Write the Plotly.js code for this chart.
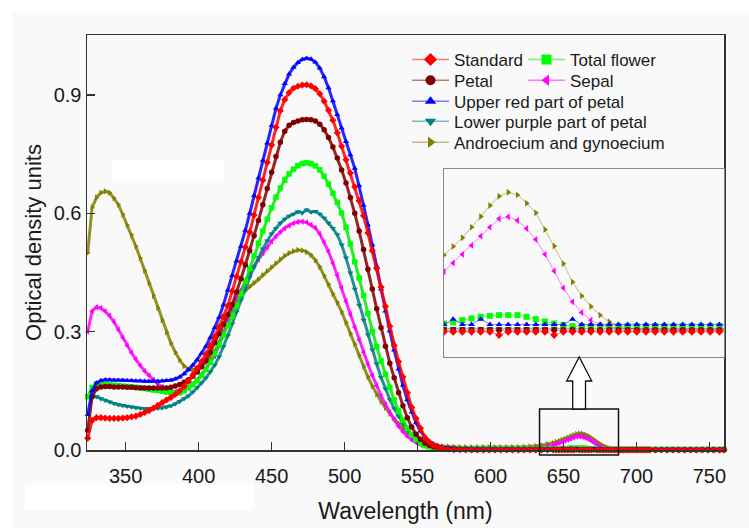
<!DOCTYPE html>
<html><head><meta charset="utf-8">
<script src="https://cdn.plot.ly/plotly-3.0.1.min.js"></script>
<style>html,body{margin:0;padding:0;background:#fff}#chart{width:749px;height:528px}</style>
</head><body><div id="chart"></div>
<script>
// ---------------- DATA ----------------
const wavelength = [
 324,327,330,333,336,339,342,345,348,351,354,357,360,363,366,369,372,375,378,381,384,387,390,393,396,399,402,405,408,411,414,417,420,423,426,429,432,435,438,441,444,447,450,453,456,459,462,465,468,471,474,477,480,483,486,489,492,495,498,501,504,507,510,513,516,519,522,525,528,531,534,537,540,543,546,549,552,555,558,561,564,567,
 571,575,579,583,587,591,595,599,603,607,611,615,619,623,627,631,635,639,643,
 645,647,649,651,653,655,657,659,661,663,665,667,669,671,673,675,677,679,681,683,685,687,689,691,693,695,697,699,701,703,705,707,709,
 713,717,721,725,729,733,737,741,745,749,753,757,760];

const standard = [
 0.030,0.075,0.082,0.082,0.081,0.080,0.080,0.080,0.081,0.082,0.084,0.086,0.090,0.095,0.100,0.106,0.113,0.120,0.127,0.133,0.141,0.150,0.161,0.174,0.190,0.207,0.224,0.243,0.264,0.287,0.312,0.338,0.366,0.403,0.440,0.477,0.514,0.552,0.596,0.640,0.684,0.729,0.773,0.818,0.860,0.888,0.906,0.917,0.922,0.925,0.926,0.923,0.916,0.903,0.884,0.861,0.836,0.804,0.770,0.736,0.702,0.667,0.632,0.594,0.550,0.505,0.460,0.413,0.364,0.314,0.265,0.224,0.185,0.145,0.108,0.080,0.055,0.032,0.020,0.012,0.007,0.004,
 0.002,0.001,0.001,0,0,0,0,0,0,0,0,0,0,0,0,0,0,0,0,
 0,0,0,0,0,0,0,-0.001,0,0,0,0,0,-0.001,0,0,0,0,0,0,0,0,0,0,0,0,0,0,0,0,0,0,0,
 0,0,0,0,0,0,0,0,0,0,0,0,0];

const petal = [
 0.050,0.135,0.155,0.160,0.161,0.161,0.160,0.160,0.160,0.159,0.159,0.158,0.158,0.157,0.157,0.157,0.157,0.157,0.157,0.159,0.162,0.166,0.172,0.178,0.187,0.198,0.211,0.227,0.248,0.272,0.295,0.318,0.343,0.369,0.400,0.434,0.469,0.505,0.543,0.582,0.622,0.663,0.704,0.744,0.780,0.808,0.823,0.830,0.834,0.837,0.838,0.837,0.834,0.826,0.812,0.792,0.768,0.740,0.710,0.677,0.640,0.600,0.555,0.508,0.458,0.408,0.358,0.310,0.263,0.220,0.183,0.145,0.112,0.082,0.058,0.040,0.027,0.018,0.012,0.008,0.006,0.005,
 0.004,0.003,0.002,0.002,0.001,0.001,0.001,0.001,0.001,0.001,0.001,0.001,0.001,0.001,0.001,0.001,0.001,0.001,0.001,
 0.0005,0.0005,0.0005,0.0005,0.0005,0.0005,0.0005,0.0005,0.0005,0.0005,0.0005,0.0005,0.0005,0.0005,0.0005,0.0005,0.0005,0.0005,0.0005,0.0005,0.0005,0.0005,0.0005,0.0005,0.0005,0.0005,0.0005,0.0005,0.0005,0.0005,0.0005,0.0005,0.0005,
 0.0005,0.0005,0.0005,0.0005,0.0005,0.0005,0.0005,0.0005,0.0005,0.0005,0.0005,0.0005,0.0005];

const upperRed = [
 0.090,0.150,0.170,0.176,0.178,0.178,0.177,0.177,0.177,0.176,0.176,0.175,0.175,0.174,0.174,0.174,0.174,0.175,0.176,0.177,0.180,0.185,0.193,0.203,0.215,0.229,0.245,0.263,0.285,0.310,0.336,0.368,0.405,0.442,0.479,0.516,0.557,0.600,0.645,0.690,0.734,0.778,0.822,0.866,0.900,0.929,0.953,0.970,0.982,0.990,0.993,0.991,0.983,0.968,0.946,0.918,0.885,0.850,0.816,0.782,0.748,0.714,0.670,0.620,0.571,0.520,0.466,0.408,0.352,0.302,0.253,0.205,0.164,0.127,0.096,0.069,0.048,0.033,0.022,0.015,0.010,0.007,
 0.005,0.004,0.003,0.003,0.003,0.003,0.003,0.0028,0.0028,0.0026,0.0025,0.0025,0.0025,0.0024,0.0023,0.0023,0.0022,0.0022,0.0022,
 0.0022,0.0022,0.0038,0.0022,0.0022,0.0038,0.0022,0.0022,0.0022,0.0022,0.0022,0.0022,0.0022,0.0022,0.0022,0.0038,0.0022,0.0022,0.0022,0.0022,0.0022,0.0022,0.0022,0.0022,0.0022,0.0022,0.0022,0.0022,0.0022,0.0022,0.0022,0.0022,0.0022,
 0.0022,0.0022,0.0022,0.0022,0.0022,0.0022,0.0022,0.0022,0.0022,0.0022,0.0022,0.0022,0.0022];

const lowerPurple = [
 0.138,0.138,0.135,0.130,0.126,0.122,0.118,0.115,0.113,0.111,0.109,0.107,0.106,0.105,0.105,0.105,0.106,0.107,0.109,0.112,0.117,0.123,0.130,0.137,0.147,0.158,0.170,0.183,0.198,0.215,0.236,0.262,0.290,0.320,0.350,0.380,0.410,0.438,0.464,0.488,0.510,0.530,0.548,0.562,0.575,0.585,0.593,0.598,0.604,0.601,0.609,0.603,0.605,0.598,0.588,0.575,0.562,0.546,0.520,0.487,0.449,0.408,0.367,0.329,0.292,0.254,0.218,0.184,0.155,0.128,0.105,0.085,0.068,0.052,0.039,0.028,0.019,0.013,0.009,0.006,0.004,0.003,
 0.002,0.002,0.001,0.001,0.001,0.001,0.001,0.001,0.001,0.001,0.001,0.001,0.001,0.001,0.001,0.001,0.001,0.001,0.001,
 0.001,0.001,0.001,0.001,0.001,0.001,0.001,0.001,0.001,0.001,0.001,0.001,0.001,0.001,0.001,0.001,0.001,0.001,0.001,0.001,0.001,0.001,0.001,0.001,0.001,0.001,0.001,0.001,0.001,0.001,0.001,0.001,0.001,
 0.001,0.001,0.001,0.001,0.001,0.001,0.001,0.001,0.001,0.001,0.001,0.001,0.001];

const androecium = [
 0.500,0.615,0.640,0.652,0.656,0.652,0.638,0.622,0.597,0.570,0.545,0.516,0.486,0.455,0.423,0.391,0.360,0.329,0.298,0.271,0.248,0.228,0.213,0.205,0.203,0.207,0.215,0.222,0.234,0.250,0.272,0.298,0.325,0.350,0.372,0.390,0.404,0.414,0.423,0.432,0.443,0.453,0.463,0.473,0.483,0.492,0.499,0.504,0.507,0.506,0.502,0.494,0.481,0.464,0.442,0.420,0.396,0.374,0.350,0.323,0.295,0.268,0.240,0.212,0.185,0.162,0.141,0.123,0.107,0.092,0.079,0.067,0.056,0.046,0.038,0.031,0.025,0.020,0.016,0.013,0.011,0.010,
 0.009,0.008,0.007,0.007,0.007,0.007,0.007,0.007,0.007,0.007,0.007,0.007,0.007,0.008,0.009,0.010,0.012,0.015,0.018,
 0.0205,0.0231,0.0257,0.0283,0.0315,0.0347,0.0380,0.0408,0.0420,0.0412,0.0387,0.0358,0.0308,0.0258,0.0205,0.0150,0.0108,0.0076,0.0050,0.0030,0.0018,0.0011,0.0008,0.0005,0.0005,0.0005,0.0005,0.0005,0.0005,0.0005,0.0005,0.0005,0.0005,
 0.0005,0.0005,0.0005,0.0005,0.0005,0.0005,0.0005,0.0005,0.0005,0.0005,0.0005,0.0005,0.0005];

const totalFlower = [
 0.135,0.158,0.167,0.168,0.166,0.165,0.164,0.163,0.162,0.161,0.160,0.159,0.157,0.156,0.154,0.152,0.151,0.149,0.147,0.145,0.144,0.145,0.150,0.158,0.166,0.176,0.189,0.204,0.222,0.244,0.267,0.291,0.316,0.341,0.366,0.396,0.428,0.460,0.492,0.524,0.555,0.585,0.614,0.641,0.664,0.684,0.700,0.712,0.721,0.726,0.728,0.726,0.720,0.710,0.694,0.674,0.651,0.628,0.601,0.564,0.522,0.477,0.436,0.392,0.346,0.300,0.262,0.226,0.192,0.158,0.127,0.099,0.075,0.055,0.039,0.027,0.017,0.011,0.008,0.006,0.005,0.005,
 0.004,0.003,0.003,0.003,0.003,0.003,0.003,0.003,0.003,0.003,0.003,0.003,0.003,0.0025,0.0025,0.0025,0.0025,0.0025,0.0025,
 0.0023,0.0025,0.0028,0.0035,0.0040,0.0045,0.0048,0.0050,0.0050,0.0050,0.0045,0.0038,0.0031,0.0025,0.0020,0.0017,0.0017,0.0017,0.0017,0.0017,0.0017,0.0017,0.0017,0.0017,0.0017,0.0017,0.0017,0.0017,0.0017,0.0017,0.0017,0.0017,0.0017,
 0.0017,0.0017,0.0017,0.0017,0.0017,0.0017,0.0017,0.0017,0.0017,0.0017,0.0017,0.0017,0.0017];

const sepal = [
 0.300,0.352,0.362,0.360,0.352,0.340,0.325,0.305,0.285,0.265,0.247,0.230,0.214,0.200,0.189,0.178,0.168,0.160,0.154,0.150,0.148,0.148,0.151,0.157,0.167,0.178,0.192,0.207,0.222,0.238,0.265,0.295,0.327,0.358,0.383,0.405,0.426,0.448,0.466,0.483,0.499,0.514,0.529,0.542,0.553,0.562,0.569,0.575,0.578,0.579,0.577,0.571,0.563,0.548,0.527,0.503,0.474,0.443,0.411,0.377,0.344,0.311,0.279,0.248,0.218,0.189,0.163,0.138,0.116,0.096,0.077,0.060,0.046,0.035,0.026,0.019,0.014,0.010,0.008,0.006,0.005,0.004,
 0.003,0.003,0.002,0.002,0.001,0.001,0.001,0.001,0.001,0.001,0.001,0.001,0.001,0.001,0.001,0.003,0.005,0.008,0.012,
 0.0155,0.0181,0.0207,0.0233,0.0260,0.0288,0.0315,0.0340,0.0346,0.0335,0.0311,0.0278,0.0233,0.0183,0.0132,0.0090,0.0058,0.0035,0.0021,0.0015,0.0011,0.0010,0.0008,0.0008,0.0008,0.0008,0.0008,0.0008,0.0008,0.0008,0.0008,0.0008,0.0008,
 0.0008,0.0008,0.0008,0.0008,0.0008,0.0008,0.0008,0.0008,0.0008,0.0008,0.0008,0.0008,0.0008];

const xTickValues = [350,400,450,500,550,600,650,700,750];
const xTickLabels = ['350','400','450','500','550','600','650','700','750'];
const yTickValues = [0.0,0.3,0.6,0.9];
const yTickLabels = ['0.0','0.3','0.6','0.9'];
const xTitle = 'Wavelength (nm)';
const yTitle = 'Optical density units';
const insetWindow = [647, 708];
const boxWindow = [633.6, 687.7];

// ---------------- STYLE ----------------
const FONT = 'Arial, "Liberation Sans", sans-serif';
const series = [
  {name:'Androecium and gynoecium', y:androecium, color:'#808000', rgb:'128,128,0', symbol:'triangle-right', legend:'legend5'},
  {name:'Sepal', y:sepal, color:'#ff00ff', rgb:'255,0,255', symbol:'triangle-left', legend:'legend7'},
  {name:'Lower purple part of petal', y:lowerPurple, color:'#008080', rgb:'0,128,128', symbol:'triangle-down', legend:'legend4'},
  {name:'Total flower', y:totalFlower, color:'#00ff00', rgb:'0,235,0', symbol:'square', legend:'legend6'},
  {name:'Petal', y:petal, color:'#800000', rgb:'128,0,0', symbol:'circle', legend:'legend2'},
  {name:'Upper red part of petal', y:upperRed, color:'#0000ff', rgb:'0,0,255', symbol:'triangle-up', legend:'legend3'},
  {name:'Standard', y:standard, color:'#ff0000', rgb:'255,0,0', symbol:'diamond', legend:'legend'}
];

const traces = [];
// main plot
series.forEach(s => {
  traces.push({type:'scatter', mode:'lines+markers', name:s.name, x:wavelength, y:s.y,
    xaxis:'x', yaxis:'y', showlegend:false, cliponaxis:false,
    line:{color:'rgba(' + s.rgb + ',0.85)', width:3},
    marker:{color:s.color, symbol:s.symbol, size:5.5, line:{width:0}}});
});
// inset (same data, zoomed window)
series.forEach(s => {
  traces.push({type:'scatter', mode:'lines+markers', name:s.name, x:wavelength, y:s.y,
    xaxis:'x2', yaxis:'y2', showlegend:false,
    line:{color:'rgba(' + s.rgb + ',0.5)', width:1},
    marker:{color:s.color, symbol:s.symbol, size:6, line:{width:0}}});
});
// legend entries (no data of their own)
series.forEach(s => {
  traces.push({type:'scatter', mode:'lines+markers', name:s.name, x:[null], y:[null],
    xaxis:'x', yaxis:'y', legend:s.legend, showlegend:true,
    line:{color:'rgba(' + s.rgb + ',0.5)', width:1.5},
    marker:{color:s.color, symbol:s.symbol, size:10, line:{width:0}}});
});

// pixel helpers for layout placement (plot area 87..724 x, 35..450 y)
const PX = px => (px - 87) / 637;
const PY = py => (450 - py) / 415;

function leg(xpx, ypx) {
  return {x:PX(xpx), y:PY(ypx), xanchor:'left', yanchor:'middle', bgcolor:'rgba(0,0,0,0)',
    borderwidth:0, font:{family:FONT, size:17, color:'#1a1a1a'}, itemwidth:37,
    itemsizing:'trace', itemclick:false, itemdoubleclick:false};
}

const axisCommon = {showgrid:false, zeroline:false, showline:true, mirror:true,
  linecolor:'#333', linewidth:1.5, ticks:'inside', ticklen:8, tickwidth:1.5, tickcolor:'#333',
  tickfont:{family:FONT, size:20, color:'#1a1a1a'}};

const arrowPath = 'M' + PX(572.7) + ',' + PY(409) + ' L' + PX(572.7) + ',' + PY(381) +
  ' L' + PX(566.7) + ',' + PY(381) + ' L' + PX(579.2) + ',' + PY(357) +
  ' L' + PX(591.7) + ',' + PY(381) + ' L' + PX(585.5) + ',' + PY(381) +
  ' L' + PX(585.5) + ',' + PY(409) + ' Z';

const layout = {
  width:749, height:528,
  margin:{l:87, r:25, t:35, b:78, pad:0},
  paper_bgcolor:'#ffffff', plot_bgcolor:'#f9f9f9',
  font:{family:FONT, color:'#1a1a1a'},
  showlegend:true,
  xaxis:Object.assign({}, axisCommon, {domain:[0,1], range:[323.5,760], tickvals:xTickValues, ticktext:xTickLabels,
    ticklabelstandoff:7,
    title:{text:xTitle, font:{family:FONT, size:23, color:'#1a1a1a'}, standoff:17}, anchor:'y'}),
  yaxis:Object.assign({}, axisCommon, {domain:[0,1], range:[0,1.052], tickvals:yTickValues, ticktext:yTickLabels,
    title:{text:yTitle, font:{family:FONT, size:22, color:'#1a1a1a'}, standoff:6}, anchor:'x'}),
  xaxis2:{domain:[PX(444),1], range:insetWindow, anchor:'y2', showgrid:false, zeroline:false,
    showline:true, mirror:true, linecolor:'#888', linewidth:1.2, ticks:'', showticklabels:false},
  yaxis2:{domain:[PY(357),PY(169)], range:[-0.0076,0.049], anchor:'x2', showgrid:false, zeroline:false,
    showline:true, mirror:true, linecolor:'#888', linewidth:1.2, ticks:'', showticklabels:false},
  legend:leg(407,60), legend2:leg(407,80.7), legend3:leg(407,101.7), legend4:leg(407,121.7), legend5:leg(407,142.7),
  legend6:leg(523,60), legend7:leg(523,80.7),
  shapes:[
    {type:'rect', xref:'paper', yref:'paper', x0:PX(12), x1:PX(749), y0:PY(528), y1:PY(13), fillcolor:'#f9f9f9', line:{width:0}, layer:'below'},
    {type:'rect', xref:'paper', yref:'paper', x0:PX(112), x1:PX(224), y0:PY(180), y1:PY(160), fillcolor:'#ffffff', line:{width:0}, layer:'below'},
    {type:'rect', xref:'paper', yref:'paper', x0:PX(25), x1:PX(253), y0:PY(510), y1:PY(484), fillcolor:'#ffffff', line:{width:0}, layer:'below'},
    {type:'rect', xref:'x', yref:'paper', x0:boxWindow[0], x1:boxWindow[1], y0:PY(455), y1:PY(409), line:{color:'#111', width:1.5}, fillcolor:'rgba(0,0,0,0)'},
    {type:'path', xref:'paper', yref:'paper', path:arrowPath, line:{color:'#111', width:1.3}, fillcolor:'#ffffff'}
  ]
};

Plotly.newPlot('chart', traces, layout, {staticPlot:true, displayModeBar:false});
</script></body></html>
